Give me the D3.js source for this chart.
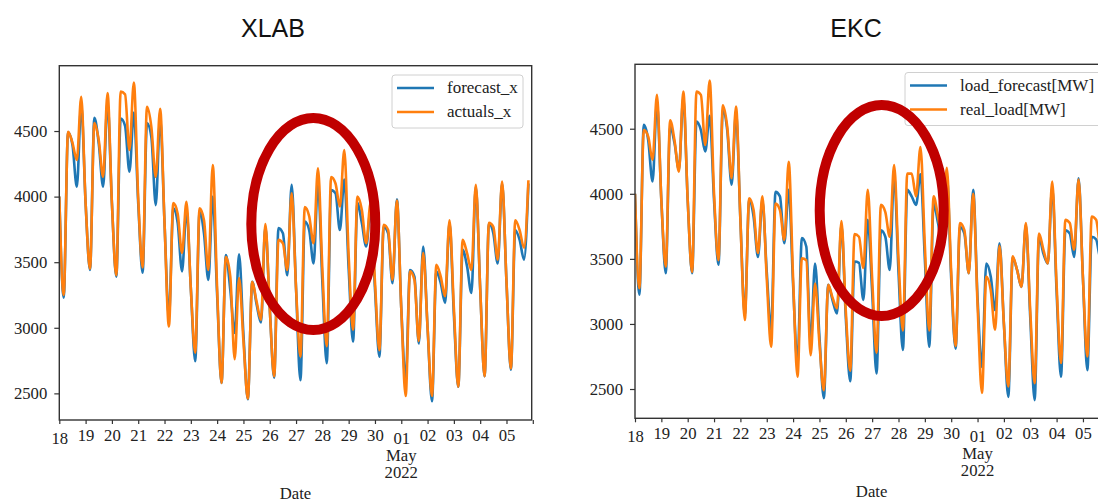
<!DOCTYPE html>
<html lang="en">
<head>
    <meta charset="utf-8">
    <title>XLAB vs EKC load forecast</title>
    <script type="text/javascript" src="https://d3js.org/d3.v7.min.js"></script>
    <style type="text/css">
        body { margin: 0; background: #fff; }
        svg { display: block; }
        .tick text { font-family: "Liberation Serif", "Times New Roman", serif; font-size: 16.7px; fill: #222; }
    </style>
</head>
<body>
<script type="text/javascript">

    // one value every 4 hours (00,04,08,12,16,20), 18 Apr 2022 .. 05 May 2022
    var hoursOfDay = [0, 4, 8, 12, 16, 20];
    var dayLabels = ["18","19","20","21","22","23","24","25","26","27","28","29","30","01","02","03","04","05"];
    var yTicks = [2500, 3000, 3500, 4000, 4500];

    var xlabForecast = [
        4000,3230,4490,4395,4075,4700,  3950,3440,4600,4405,4075,4720,  3950,3390,4595,4540,4190,4640,
        3950,3420,4560,4455,3935,4600,  3800,3080,3910,3800,3430,3900,  3300,2745,3885,3720,3365,4000,
        3250,2580,3555,3290,2960,3560,  2950,2455,3350,3180,3040,3770,  3150,2620,3760,3720,3400,4090,
        3300,2600,3810,3745,3490,4100,  3350,2730,4050,4025,3745,4130,  3450,2895,3950,3800,3620,3900,
        3300,2780,3770,3720,3340,3980,  3150,2600,3440,3390,2880,3620,  3000,2440,3430,3340,3190,3800,
        3100,2550,3595,3470,3265,4075,  3300,2630,3795,3720,3490,4100,  3350,2680,3745,3670,3520,4100
    ];
    var xlabActuals = [
        4000,3250,4495,4410,4280,4760,  3950,3450,4560,4430,4150,4790,  3950,3400,4800,4780,4355,4870,
        3990,3460,4685,4530,4150,4670,  3800,3010,3950,3870,3570,3960,  3300,2810,3910,3820,3440,4240,
        3300,2580,3540,3390,2760,3380,  2900,2460,3350,3200,3060,3790,  3150,2630,3670,3645,3440,4025,
        3300,2780,3920,3850,3645,4215,  3450,2860,4150,4100,3925,4355,  3550,2985,4000,3900,3645,3950,
        3350,2830,3785,3745,3365,3970,  3150,2480,3430,3365,2900,3570,  3000,2480,3480,3390,3240,3820,
        3150,2550,3670,3570,3440,4090,  3300,2630,3800,3770,3520,4115,  3350,2690,3820,3745,3610,4125
    ];
    var ekcForecast = [
        4000,3225,4530,4415,4095,4700,  3950,3390,4515,4390,4185,4740,  3950,3390,4555,4490,4325,4600,
        3950,3455,4645,4490,4070,4620,  3800,3070,3950,3825,3515,3950,  3400,2955,4015,3980,3620,4030,
        3300,2700,3660,3595,2850,3465,  2900,2430,3300,3180,3080,3760,  3050,2560,3480,3470,3185,3800,
        3250,2620,3720,3670,3415,4150,  3400,2800,4030,3980,3915,4150,  3500,2825,3925,3775,3600,4150,
        3350,2810,3745,3695,3390,4030,  3200,2670,3465,3365,3105,3620,  3000,2440,3510,3415,3285,3760,
        3050,2415,3670,3540,3465,4050,  3250,2595,3720,3695,3515,4120,  3350,2645,3670,3650,3500,4050
    ];
    var ekcActuals = [
        4000,3275,4490,4440,4260,4760,  3950,3440,4565,4410,4170,4785,  3950,3400,4785,4760,4375,4870,
        4000,3490,4680,4515,4120,4670,  3800,3030,3965,3875,3545,3980,  3350,2825,3925,3875,3645,4245,
        3350,2595,3505,3490,2760,3310,  2850,2490,3300,3200,3120,3790,  3100,2640,3690,3670,3430,4030,
        3350,2780,3915,3860,3670,4220,  3500,2950,4155,4155,3980,4360,  3600,2950,3980,3825,3650,4200,
        3400,2830,3775,3720,3390,4000,  3150,2470,3365,3260,2955,3600,  3000,2520,3520,3415,3285,3775,
        3100,2545,3695,3570,3465,4095,  3300,2700,3800,3775,3570,4110,  3350,2750,3825,3800,3600,4100
    ];

    var blue = "#1f77b4", orange = "#ff7f0e", ring = "#c00000";
    var start = new Date(2022, 3, 18);
    var end = new Date(2022, 4, 5, 23);

    function timeAt(i) {
        return d3.timeHour.offset(d3.timeDay.offset(start, Math.floor(i / 6)), hoursOfDay[i % 6]);
    }

    var svg = d3.select("body").append("svg")
        .attr("width", 1098)
        .attr("height", 502);

    function drawPanel(p) {
        var x = d3.scaleTime().domain([start, end]).range([p.left, p.right]);
        var y = d3.scaleLinear().domain(p.yDomain).range([p.bottom, p.top]);

        var g = svg.append("g");

        g.append("clipPath").attr("id", p.id + "-clip")
            .append("rect")
            .attr("x", p.left).attr("y", p.top)
            .attr("width", p.right - p.left).attr("height", p.bottom - p.top);

        var line = d3.line()
            .x(function(d, i) { return x(timeAt(i)); })
            .y(function(d) { return y(d); })
            .curve(d3.curveMonotoneX);

        var lines = g.append("g").attr("clip-path", "url(#" + p.id + "-clip)");
        lines.append("path").datum(p.forecast)
            .attr("d", line).attr("fill", "none")
            .attr("stroke", blue).attr("stroke-width", 2.6).attr("stroke-linejoin", "round");
        lines.append("path").datum(p.actuals)
            .attr("d", line).attr("fill", "none")
            .attr("stroke", orange).attr("stroke-width", 2.6).attr("stroke-linejoin", "round");

        // axes frame
        g.append("rect")
            .attr("x", p.left).attr("y", p.top)
            .attr("width", p.right - p.left).attr("height", p.bottom - p.top)
            .attr("fill", "none").attr("stroke", "#333").attr("stroke-width", 1.4);

        var dayTicks = d3.timeDay.range(start, d3.timeDay.offset(end, 1));
        var xAxis = g.append("g")
            .attr("transform", "translate(0," + p.bottom + ")")
            .call(d3.axisBottom(x).tickValues(dayTicks)
                .tickFormat(function(d, i) { return dayLabels[i]; })
                .tickSize(4).tickPadding(5));
        xAxis.select(".domain").remove();
        xAxis.selectAll(".tick line").attr("stroke", "#333").attr("stroke-width", 1.2);
        // first tick and month start sit a bit lower
        xAxis.selectAll(".tick text")
            .attr("y", function(d, i) { return (i === 0 || dayLabels[i] === "01") ? 12 : 9; });

        var may1 = x(new Date(2022, 4, 1));
        g.append("text").attr("x", may1).attr("y", p.bottom + 41)
            .attr("text-anchor", "middle")
            .attr("font-family", "Liberation Serif, serif").attr("font-size", 16.7).attr("fill", "#222")
            .text("May");
        g.append("text").attr("x", may1).attr("y", p.bottom + 58)
            .attr("text-anchor", "middle")
            .attr("font-family", "Liberation Serif, serif").attr("font-size", 16.7).attr("fill", "#222")
            .text("2022");
        g.append("text").attr("x", (p.left + p.right) / 2).attr("y", p.bottom + 79)
            .attr("text-anchor", "middle")
            .attr("font-family", "Liberation Serif, serif").attr("font-size", 16.7).attr("fill", "#222")
            .text("Date");

        var yAxis = g.append("g")
            .attr("transform", "translate(" + p.left + ",0)")
            .call(d3.axisLeft(y).tickValues(yTicks).tickFormat(d3.format("d")).tickSize(5).tickPadding(7));
        yAxis.select(".domain").remove();
        yAxis.selectAll(".tick line").attr("stroke", "#333").attr("stroke-width", 1.2);

        // title
        g.append("text")
            .attr("x", p.titleX).attr("y", 37)
            .attr("text-anchor", "middle")
            .attr("font-family", "Liberation Sans, Arial, sans-serif")
            .attr("font-size", 25).attr("fill", "#111")
            .text(p.title);

        // legend
        var lg = g.append("g").attr("transform", "translate(" + p.legendX + "," + p.legendY + ")");
        lg.append("rect")
            .attr("width", p.legendW).attr("height", 53).attr("rx", 3)
            .attr("fill", "#fff").attr("fill-opacity", 0.8)
            .attr("stroke", "#d0d0d0").attr("stroke-width", 1);
        p.legendNames.forEach(function(name, i) {
            var yy = 13 + i * 24;
            lg.append("line")
                .attr("x1", 5).attr("x2", 42).attr("y1", yy).attr("y2", yy)
                .attr("stroke", i === 0 ? blue : orange).attr("stroke-width", 2.6);
            lg.append("text")
                .attr("x", 55).attr("y", yy + 5)
                .attr("font-family", "Liberation Serif, serif").attr("font-size", 17).attr("fill", "#222")
                .text(name);
        });

        // red highlight ring
        g.append("ellipse")
            .attr("cx", p.ring[0]).attr("cy", p.ring[1])
            .attr("rx", p.ring[2]).attr("ry", p.ring[3])
            .attr("fill", "none").attr("stroke", ring).attr("stroke-width", 10);
    }

    drawPanel({
        id: "xlab", title: "XLAB", titleX: 273,
        left: 59.3, right: 531.7, top: 65.7, bottom: 420,
        yDomain: [2297, 4998],
        forecast: xlabForecast, actuals: xlabActuals,
        legendNames: ["forecast_x", "actuals_x"],
        legendX: 392, legendY: 75, legendW: 131,
        ring: [313.3, 224, 62, 106]
    });

    drawPanel({
        id: "ekc", title: "EKC", titleX: 856,
        left: 635, right: 1108.2, top: 64.3, bottom: 418.3,
        yDomain: [2275, 4995],
        forecast: ekcForecast, actuals: ekcActuals,
        legendNames: ["load_forecast[MW]", "real_load[MW]"],
        legendX: 905, legendY: 72.5, legendW: 196,
        ring: [881.7, 210.5, 62, 105.5]
    });

</script>
</body>
</html>
